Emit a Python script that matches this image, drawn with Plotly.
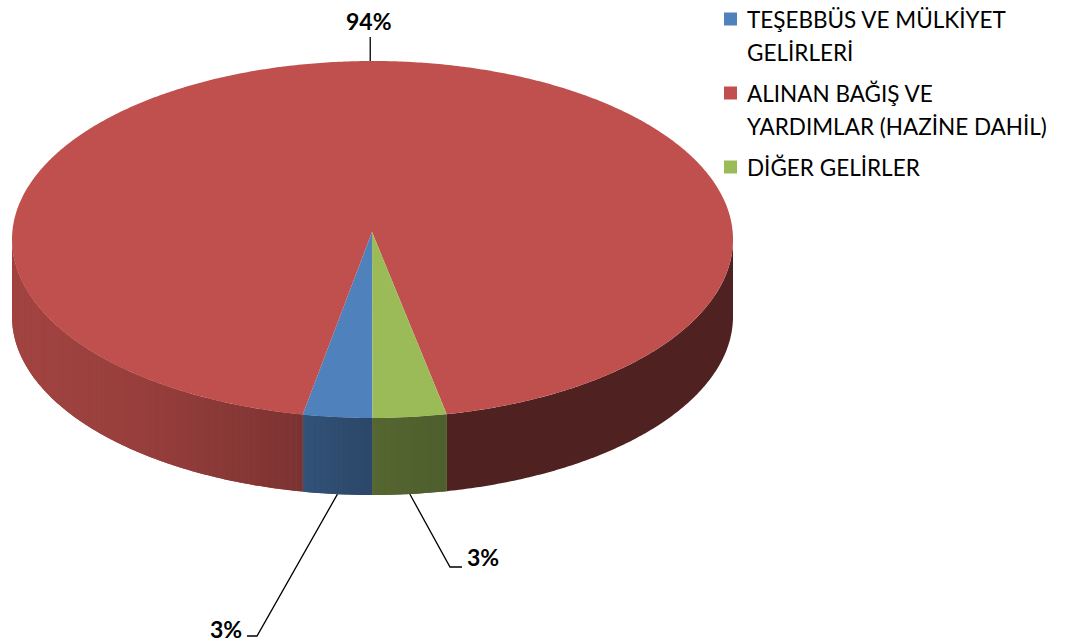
import numpy as np
import plotly.graph_objects as go

# ---------------- data ----------------
categories = ["TEŞEBBÜS VE MÜLKİYET GELİRLERİ",
              "ALINAN BAĞIŞ VE YARDIMLAR (HAZİNE DAHİL)",
              "DİĞER GELİRLER"]
legend_lines = [["TEŞEBBÜS VE MÜLKİYET", "GELİRLERİ"],
                ["ALINAN BAĞIŞ VE", "YARDIMLAR (HAZİNE DAHİL)"],
                ["DİĞER GELİRLER"]]
values = [3.1, 93.6, 3.3]
colors = ["#4F81BD", "#C0504D", "#9BBB59"]

# ---------------- layout / geometry constants ----------------
W, H = 1065, 642
CX, CY, RX, RY, DEPTH = 372.5, 239.5, 360.5, 178.5, 77
APEX = (372.0, 232.0)
START = 180.0  # first slice angle (degrees clockwise from top)
LABEL_ELBOWS = [[(257, 636), (247, 636)], [], [(450, 567), (462, 567)]]
LABEL_POS = [(244, 629, "right"), (369, 21, "center"), (465, 557, "left")]
LEG_X_SQ, LEG_X_TXT, LEG_Y0, LINE_STEP, ITEM_GAP, SQ = 724, 745, 19, 33.5, 7, 13
FONT = "Lato"


def pt(theta):
    t = np.radians(theta)
    return CX + RX * np.sin(t), CY - RY * np.cos(t)


def hex2rgb(h):
    h = h.lstrip("#")
    return [int(h[i:i + 2], 16) for i in (0, 2, 4)]


def shade(hexcol, f):
    r, g, b = hex2rgb(hexcol)
    return "rgb(%d,%d,%d)" % (round(r * f), round(g * f), round(b * f))


total = float(sum(values))
spans = [v / total * 360.0 for v in values]
starts = [START + sum(spans[:i]) for i in range(len(values))]
ends = [s + sp for s, sp in zip(starts, spans)]

shapes = []

# ---- side walls (front half of the disc) ----
xs_ref = [12, 150, 300, 372, 450]
fs_ref = [0.85, 0.78, 0.64, 0.55, 0.50]


def side_factor(i, theta, x):
    if i == 1 and (theta % 360) < 180:
        return 0.41
    return float(np.interp(x, xs_ref, fs_ref))


for i in range(len(values)):
    for k in (0.0, 360.0):
        lo = max(starts[i], 90 + k)
        hi = min(ends[i], 270 + k)
        if lo >= hi:
            continue
        th = np.linspace(lo, hi, max(4, int(np.ceil((hi - lo) / 0.5))) + 1)
        top = [pt(a) for a in th]
        path = "M " + " L ".join(f"{x:.2f},{y:.2f}" for x, y in top)
        path += " L " + " L ".join(f"{x:.2f},{y + DEPTH:.2f}" for x, y in top[::-1]) + " Z"
        xm, _ = pt((lo + hi) / 2)
        base = shade(colors[i], side_factor(i, (lo + hi) / 2, xm))
        shapes.append(dict(type="path", xref="x", yref="y", path=path,
                           fillcolor=base, line=dict(width=0), layer="above"))
        if i == 1 and ((lo + hi) / 2) % 360 < 180:
            continue
        n = max(2, int(np.ceil((hi - lo) / 1.0)))
        ths = np.linspace(lo, hi, n + 1)
        for a, b in zip(ths[:-1], ths[1:]):
            x1, y1 = pt(a)
            x2, y2 = pt(b)
            col = shade(colors[i], side_factor(i, (a + b) / 2, (x1 + x2) / 2))
            shapes.append(dict(
                type="path", xref="x", yref="y",
                path=f"M {x1:.2f},{y1:.2f} L {x2:.2f},{y2:.2f} L {x2:.2f},{y2 + DEPTH:.2f} L {x1:.2f},{y1 + DEPTH:.2f} Z",
                fillcolor=col, line=dict(width=0), layer="above"))

# ---- top face ----
for i in range(len(values)):
    n = max(8, int(np.ceil(spans[i] / 0.5)))
    th = np.linspace(starts[i], ends[i], n + 1)
    pts = [pt(a) for a in th]
    path = f"M {APEX[0]},{APEX[1]} " + " ".join(f"L {x:.2f},{y:.2f}" for x, y in pts) + " Z"
    shapes.append(dict(type="path", xref="x", yref="y", path=path,
                       fillcolor=colors[i], line=dict(width=0), layer="above"))

# ---- legend ----
annotations = []
y = LEG_Y0
for i, lines in enumerate(legend_lines):
    shapes.append(dict(type="rect", xref="x", yref="y",
                       x0=LEG_X_SQ, x1=LEG_X_SQ + SQ, y0=y - SQ / 2, y1=y + SQ / 2,
                       fillcolor=colors[i], line=dict(width=0), layer="above"))
    for ln in lines:
        annotations.append(dict(x=LEG_X_TXT, y=y, xref="x", yref="y", text=ln,
                                showarrow=False, xanchor="left", yanchor="middle",
                                font=dict(family=FONT, size=22.5, color="#000000")))
        y += LINE_STEP
    y += ITEM_GAP

fig = go.Figure()

# ---- leader lines + data labels ----
for i in range(len(values)):
    mid = (starts[i] + ends[i]) / 2
    mx, my = pt(mid)
    if 90 < (mid % 360) < 270:
        my += DEPTH
        lx = [mx] + [p[0] for p in LABEL_ELBOWS[i]]
        ly = [my] + [p[1] for p in LABEL_ELBOWS[i]]
    else:
        lx = [mx, mx]
        ly = [my, my - 24]
    fig.add_trace(go.Scatter(x=lx, y=ly, mode="lines",
                             line=dict(color="#000000", width=1.3),
                             hoverinfo="skip", showlegend=False))
    pct = round(values[i] / total * 100)
    lxp, lyp, anc = LABEL_POS[i]
    annotations.append(dict(x=lxp, y=lyp, xref="x", yref="y", text=f"<b>{pct}%</b>",
                            showarrow=False, xanchor=anc, yanchor="middle",
                            font=dict(family=FONT, size=23, color="#000000")))

fig.update_layout(
    width=W, height=H,
    margin=dict(l=0, r=0, t=0, b=0),
    paper_bgcolor="white", plot_bgcolor="white",
    xaxis=dict(range=[0, W], visible=False, fixedrange=True),
    yaxis=dict(range=[H, 0], visible=False, fixedrange=True),
    shapes=shapes, annotations=annotations, showlegend=False,
)

fig.write_html("out.html", config={"displayModeBar": False},
               post_script="document.body.style.margin='0';")
